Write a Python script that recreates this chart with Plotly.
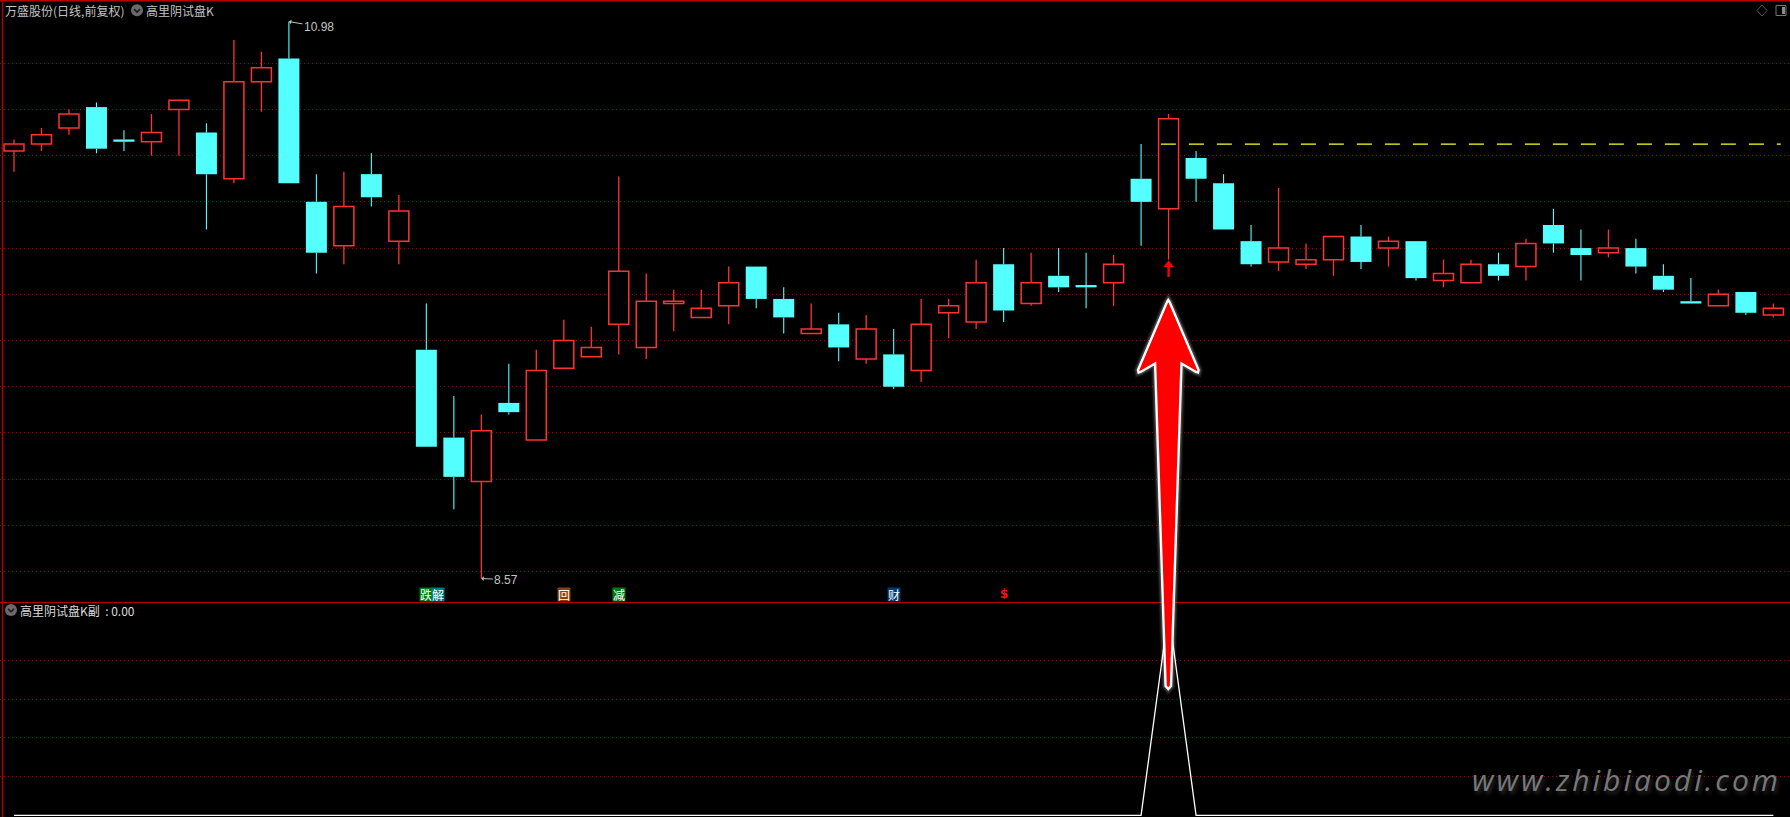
import plotly.graph_objects as go

W, H = 1790, 817

# ---------- data ----------
high  = [10.47,10.52,10.60,10.63,10.51,10.58,10.64,10.54,10.90,10.85,10.98,10.32,10.33,10.41,10.23,
         9.76,9.36,9.28,9.50,9.56,9.69,9.66,10.31,9.89,9.82,9.82,9.92,9.92,9.83,9.76,
         9.72,9.71,9.65,9.78,9.78,9.95,10.00,9.98,10.00,9.98,9.97,10.45,10.58,10.42,10.32,
         10.10,10.26,10.02,10.05,10.10,10.05,10.03,9.95,9.95,9.98,10.04,10.17,10.08,10.08,10.04,
         9.93,9.87,9.82,9.81,9.76]
open_ = [10.42,10.45,10.52,10.61,10.47,10.46,10.60,10.50,10.30,10.72,10.82,10.20,10.01,10.32,10.03,
         9.56,9.18,8.99,9.33,9.17,9.48,9.53,9.67,9.57,9.76,9.70,9.75,9.92,9.78,9.63,
         9.67,9.52,9.54,9.47,9.72,9.68,9.93,9.76,9.88,9.84,9.85,10.30,10.17,10.39,10.28,
         10.03,9.94,9.93,9.95,10.05,10.00,10.03,9.86,9.85,9.93,9.92,10.10,10.00,9.98,10.00,
         9.88,9.77,9.75,9.81,9.71]
close = [10.45,10.49,10.58,10.43,10.46,10.50,10.64,10.32,10.72,10.78,10.28,9.98,10.18,10.22,10.16,
         9.14,9.01,9.21,9.29,9.47,9.60,9.57,9.90,9.77,9.77,9.74,9.85,9.78,9.70,9.65,
         9.57,9.65,9.40,9.67,9.75,9.85,9.73,9.85,9.83,9.83,9.93,10.20,10.56,10.30,10.08,
         9.93,10.00,9.95,10.05,9.94,10.03,9.87,9.89,9.93,9.88,10.02,10.02,9.97,10.00,9.92,
         9.82,9.76,9.80,9.72,9.74]
low   = [10.33,10.42,10.49,10.41,10.42,10.40,10.40,10.08,10.28,10.59,10.28,9.89,9.93,10.18,9.93,
         9.14,8.87,8.57,9.28,9.17,9.48,9.53,9.54,9.52,9.64,9.70,9.67,9.74,9.63,9.63,
         9.51,9.50,9.39,9.42,9.61,9.65,9.68,9.75,9.81,9.74,9.75,10.01,9.95,10.20,10.08,
         9.92,9.90,9.91,9.88,9.91,9.92,9.86,9.83,9.85,9.86,9.86,9.98,9.86,9.96,9.89,
         9.81,9.76,9.75,9.71,9.70]
candle_index = list(range(len(high)))

price_grid = [10.8,10.6,10.4,10.2,10.0,9.8,9.6,9.4,9.2,9.0,8.8,8.6]
level_x = [41.72, 64.27]
level_price = [10.45, 10.45]
signal_x = [42]
signal_tip = [9.94]
signal_stem = [9.93, 9.875]

sub_values = [0.0]*42 + [1.0] + [0.0]*22
sub_grid = [0.19, 0.38, 0.57, 0.76]

labels = [(15, -0.5, "跌", "#007a10"), (15, 12, "解", "#007a80"), (20, 0, "回", "#8a4000"),
          (22, 0, "减", "#007a10"), (32, 0, "财", "#003a70")]

RED, CYAN, GRID, BORDER = "#ff3232", "#54ffff", "#a00000", "#b40000"
TXT = "#c4c4c4"
CJK = "Noto Sans CJK SC"

def px(x): return x / W
def py(y): return 1 - y / H

up = [i for i in candle_index if close[i] >= open_[i]]
dn = [i for i in candle_index if close[i] < open_[i]]

def wicks(idx):
    xs, ys = [], []
    for i in idx:
        top, bot = max(open_[i], close[i]), min(open_[i], close[i])
        if high[i] > top:
            xs += [i, i, None]; ys += [high[i], top, None]
        if low[i] < bot:
            xs += [i, i, None]; ys += [bot, low[i], None]
    return xs, ys

fig = go.Figure()
fig.add_trace(go.Bar(x=up, base=[open_[i] for i in up], y=[close[i]-open_[i] for i in up],
                     width=0.727, xaxis="x", yaxis="y",
                     marker=dict(color="#000000", line=dict(color=RED, width=1.5))))
fig.add_trace(go.Bar(x=dn, base=[close[i] for i in dn], y=[open_[i]-close[i] for i in dn],
                     width=0.764, xaxis="x", yaxis="y",
                     marker=dict(color=CYAN, line=dict(width=0))))
ux, uy = wicks(up)
dx, dy = wicks(dn)
fig.add_trace(go.Scatter(x=ux, y=uy, mode="lines", xaxis="x", yaxis="y", line=dict(color=RED, width=1.3)))
fig.add_trace(go.Scatter(x=dx, y=dy, mode="lines", xaxis="x", yaxis="y", line=dict(color=CYAN, width=1.1)))
fig.add_trace(go.Scatter(x=level_x, y=level_price, mode="lines", xaxis="x", yaxis="y",
                         line=dict(color="#ffff32", width=1.3, dash="15px,13px")))
fig.add_trace(go.Scatter(x=signal_x*2, y=signal_stem, mode="lines", xaxis="x", yaxis="y",
                         line=dict(color="#ff0000", width=2.4)))
fig.add_trace(go.Scatter(x=signal_x, y=[signal_tip[0]-0.012], mode="markers", xaxis="x", yaxis="y",
                         marker=dict(symbol="triangle-up", color="#ff0000", size=9)))
fig.add_trace(go.Scatter(x=candle_index, y=sub_values, mode="lines", xaxis="x2", yaxis="y2",
                         line=dict(color="#ffffff", width=1.3)))

shapes = []
# frame lines
shapes.append(dict(type="line", xref="paper", yref="paper", x0=0, x1=1, y0=py(0.8), y1=py(0.8),
                   line=dict(color=BORDER, width=1.4)))
shapes.append(dict(type="line", xref="paper", yref="paper", x0=px(2.5), x1=px(2.5), y0=0, y1=1,
                   line=dict(color=BORDER, width=1.4)))
shapes.append(dict(type="line", xref="paper", yref="paper", x0=0, x1=1, y0=py(602.5), y1=py(602.5),
                   line=dict(color=BORDER, width=1.2)))

# large hand-drawn arrow overlay
a = [(1167.0,302),(1168.3,300),(1169.6,302),(1198.6,370),(1198,372.5),(1196,372),(1181.5,363.5),
     (1171,686),(1168.3,689),(1165.6,686),(1155.1,363.5),(1140.6,372),(1138.6,372.5),(1138,370)]
path = "M" + " L".join(f"{px(x):.6f},{py(y):.6f}" for x, y in a) + " Z"
for wd, op in [(9, .05), (7, .08), (5, .14)]:
    shapes.append(dict(type="path", xref="paper", yref="paper", path=path, opacity=op,
                       line=dict(color="#ffffff", width=wd), fillcolor="rgba(0,0,0,0)"))
shapes.append(dict(type="path", xref="paper", yref="paper", path=path, fillcolor="#ff0000",
                   line=dict(color="#ffffff", width=2.4)))

# legend / toolbar icons
def circle(cx, cy, r, color):
    return dict(type="circle", xref="paper", yref="paper", x0=px(cx-r), x1=px(cx+r),
                y0=py(cy+r), y1=py(cy-r), fillcolor=color, line=dict(width=0))
def poly(pts, color, width, fill=None, closed=False):
    p = "M" + " L".join(f"{px(x):.6f},{py(y):.6f}" for x, y in pts) + (" Z" if closed else "")
    return dict(type="path", xref="paper", yref="paper", path=p,
                line=dict(color=color, width=width), fillcolor=fill or "rgba(0,0,0,0)")
for cx, cy in [(137, 10.3), (11, 610)]:
    shapes.append(circle(cx, cy, 6, "#6a6a6a"))
    shapes.append(poly([(cx-3, cy-1.2), (cx, cy+1.8), (cx+3, cy-1.2)], "#1a1a1a", 1.5))
shapes.append(poly([(1762, 5), (1767, 10.5), (1762, 16), (1757, 10.5)], "#555555", 1, closed=True))
shapes.append(dict(type="rect", xref="paper", yref="paper", x0=px(1776), x1=px(1786), y0=py(15.5), y1=py(5.5),
                   line=dict(color="#777777", width=1), fillcolor="#000000"))
shapes.append(dict(type="rect", xref="paper", yref="paper", x0=px(1782), x1=px(1785), y0=py(14), y1=py(7),
                   line=dict(width=0), fillcolor="#8a8a8a"))

ann = []
def text(x, y, s, color=TXT, size=12, **kw):
    ann.append(dict(xref="paper", yref="paper", x=px(x), y=py(y), text=s, showarrow=False,
                    xanchor="left", yanchor="middle",
                    font=dict(family=CJK, size=size, color=color), **kw))
text(3, 10, "万盛股份(日线,前复权)")
text(144, 10, "高里阴试盘K")
text(18, 610, "高里阴试盘K副\u00a0\u00a0:\u00a00.00", color="#dcdcdc")

# extreme price tags
ann.append(dict(x=10, y=10.98, xref="x", yref="y", text="10.98", showarrow=True, arrowhead=1, arrowsize=0.8,
                arrowwidth=1, arrowcolor=TXT, ax=30, ay=5, axref="pixel", ayref="pixel",
                font=dict(family="Liberation Sans", size=12, color=TXT)))
ann.append(dict(x=17, y=8.57, xref="x", yref="y", text="8.57", showarrow=True, arrowhead=1, arrowsize=0.8,
                arrowwidth=1, arrowcolor=TXT, ax=25, ay=1, axref="pixel", ayref="pixel",
                font=dict(family="Liberation Sans", size=12, color=TXT)))

# signal tags under the candles
for i, shift, s, bg in labels:
    ann.append(dict(x=i, xref="x", y=py(594), yref="paper", yanchor="middle", xshift=shift, text=s,
                    showarrow=False, bgcolor=bg, borderpad=0, height=13, width=12,
                    font=dict(family=CJK, size=12, color="#ffffff")))
ann.append(dict(x=36, xref="x", y=py(594), yref="paper", yanchor="middle", text="<b>$</b>", showarrow=False,
                font=dict(family="DejaVu Sans", size=12, color="#ff1010")))

# watermark
mark = "\u200a".join("www.zhibiaodi.com")
ann.append(dict(xref="paper", yref="paper", x=px(1470), y=py(779), xanchor="left", yanchor="middle",
                text=f"<i>{mark}</i>", showarrow=False,
                font=dict(family="Open Sans", size=30, color="#787878", shadow="2px 3px 4px #2c2c2c")))

fig.update_layout(
    width=W, height=H, margin=dict(l=0, r=0, t=0, b=0), autosize=False,
    paper_bgcolor="#000000", plot_bgcolor="#000000", showlegend=False, barmode="overlay",
    shapes=shapes, annotations=ann,
    xaxis=dict(range=[(0-14)/27.49, (W-14)/27.49], domain=[0, 1], anchor="y", visible=False, fixedrange=True),
    yaxis=dict(range=[10.98-(601-21.6)/231.1, 10.98+21.6/231.1], domain=[1-601/H, 1], anchor="x",
               tickmode="array", tickvals=price_grid, showticklabels=False, ticks="", zeroline=False,
               showline=False, showgrid=True, gridcolor=GRID, griddash="1px,3px", gridwidth=1, fixedrange=True),
    xaxis2=dict(range=[(0-14)/27.49, (W-14)/27.49], domain=[0, 1], anchor="y2", visible=False, fixedrange=True),
    yaxis2=dict(range=[(815.4-817)/204, (815.4-602)/204], domain=[0, (817-602)/H], anchor="x2",
                tickmode="array", tickvals=sub_grid, showticklabels=False, ticks="", zeroline=False,
                showline=False, showgrid=True, gridcolor=GRID, griddash="1px,3px", gridwidth=1, fixedrange=True),
)

fig.write_html("out.html", config=dict(displayModeBar=False),
               post_script="document.body.style.margin='0';document.body.style.background='#000';document.body.style.overflow='hidden';")
